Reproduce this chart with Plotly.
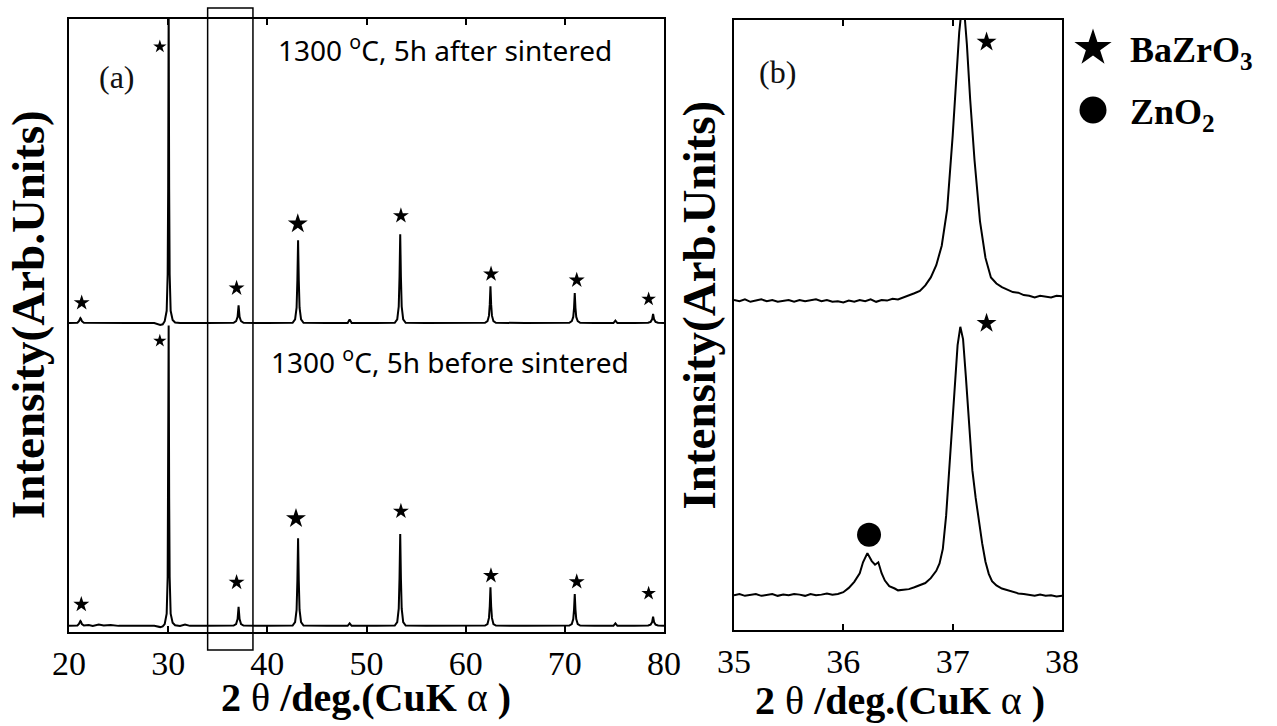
import plotly.graph_objects as go

W, H = 1277, 726

# ---------------- Panel (a): full XRD patterns (2theta, intensity above baseline) ----------------
a_after_2theta = [20.0, 20.85, 21.0, 21.1, 21.15, 21.2, 21.3, 21.5,
                  23.0, 26.0, 28.6,
                  29.2, 29.45, 29.65, 29.85, 29.95, 30.0, 30.05, 30.1, 30.15, 30.25, 30.45, 30.7, 31.2,
                  34.0,
                  36.6, 36.85, 37.0, 37.1, 37.2, 37.35, 37.6,
                  40.0,
                  42.55, 42.8, 42.95, 43.03, 43.1, 43.17, 43.25, 43.4, 43.65,
                  46.0,
                  48.1, 48.3, 48.5,
                  51.0,
                  52.85, 53.1, 53.25, 53.33, 53.4, 53.47, 53.55, 53.7, 53.95,
                  56.0, 59.0,
                  61.95, 62.2, 62.35, 62.43, 62.5, 62.57, 62.65, 62.8, 63.05,
                  66.0,
                  70.45, 70.7, 70.85, 70.93, 71.0, 71.07, 71.15, 71.3, 71.55,
                  73.0,
                  74.9, 75.1, 75.3,
                  77.0,
                  78.4, 78.65, 78.8, 78.9, 79.0, 79.15, 79.4,
                  80.0]
a_after_int = [0.0, 0.05, 0.3, 0.7, 0.8, 0.7, 0.3, 0.05,
               0.0, 0.0, 0.0,
               -0.3, -0.2, 0.3, 2.0, 8.0, 22.0, 52.0, 22.0, 8.0, 2.0, 0.5, 0.1, 0.0,
               0.0,
               0.05, 0.3, 1.0, 2.9, 1.0, 0.3, 0.05,
               0.0,
               0.05, 0.6, 2.5, 7.0, 13.5, 7.0, 2.5, 0.6, 0.05,
               0.0,
               0.0, 0.6, 0.0,
               0.0,
               0.05, 0.6, 2.7, 7.5, 14.5, 7.5, 2.7, 0.6, 0.05,
               0.0, 0.0,
               0.05, 0.3, 1.2, 3.0, 6.0, 3.0, 1.2, 0.3, 0.05,
               0.0,
               0.05, 0.3, 1.0, 2.5, 4.9, 2.5, 1.0, 0.3, 0.05,
               0.0,
               0.0, 0.4, 0.0,
               0.0,
               0.05, 0.2, 0.6, 1.5, 0.6, 0.2, 0.05,
               0.0]

a_before_2theta = [20.0, 20.85, 21.0, 21.1, 21.15, 21.2, 21.3, 21.5,
                   22.0, 22.4, 23.0, 23.5, 24.2, 25.0, 26.0, 28.6,
                   29.2, 29.45, 29.65, 29.85, 29.95, 30.0, 30.05, 30.1, 30.15, 30.25, 30.45, 30.7, 31.2,
                   31.7, 32.2, 34.0,
                   36.6, 36.85, 37.0, 37.1, 37.2, 37.35, 37.6,
                   40.0,
                   42.55, 42.8, 42.95, 43.03, 43.1, 43.17, 43.25, 43.4, 43.65,
                   46.0,
                   48.1, 48.3, 48.5,
                   51.0,
                   52.85, 53.1, 53.25, 53.33, 53.4, 53.47, 53.55, 53.7, 53.95,
                   56.0, 59.0,
                   61.95, 62.2, 62.35, 62.43, 62.5, 62.57, 62.65, 62.8, 63.05,
                   66.0,
                   70.45, 70.7, 70.85, 70.93, 71.0, 71.07, 71.15, 71.3, 71.55,
                   73.0,
                   74.9, 75.1, 75.3,
                   77.0,
                   78.4, 78.65, 78.8, 78.9, 79.0, 79.15, 79.4,
                   80.0]
a_before_int = [0.0, 0.05, 0.3, 0.7, 0.8, 0.7, 0.3, 0.05,
                0.15, 0.0, 0.2, 0.05, 0.15, 0.0, 0.0, 0.0,
                -0.2, -0.1, 0.3, 2.0, 8.0, 21.0, 49.0, 21.0, 8.0, 2.0, 0.5, 0.1, 0.0,
                0.2, 0.0, 0.0,
                0.05, 0.3, 1.1, 3.1, 1.1, 0.3, 0.05,
                0.0,
                0.05, 0.6, 2.6, 7.4, 14.3, 7.4, 2.6, 0.6, 0.05,
                0.0,
                0.0, 0.4, 0.0,
                0.0,
                0.05, 0.6, 2.8, 7.8, 15.0, 7.8, 2.8, 0.6, 0.05,
                0.0, 0.0,
                0.05, 0.3, 1.3, 3.2, 6.3, 3.2, 1.3, 0.3, 0.05,
                0.0,
                0.05, 0.3, 1.1, 2.7, 5.2, 2.7, 1.1, 0.3, 0.05,
                0.0,
                0.0, 0.4, 0.0,
                0.0,
                0.05, 0.2, 0.6, 1.5, 0.6, 0.2, 0.05,
                0.0]

# vertical stacking offsets of the two patterns (axis units 0..100)
a_after_offset = 50.4
a_before_offset = 1.0

# BaZrO3 peak markers (2theta, plotted height)
a_star_after_2theta = [21.28, 29.16, 36.90, 43.07, 53.47, 62.56, 71.20, 78.45]
a_star_after_y = [53.7, 95.5, 56.1, 66.6, 67.9, 58.4, 57.4, 54.3]
a_star_before_2theta = [21.24, 29.16, 36.90, 42.89, 53.47, 62.55, 71.20, 78.45]
a_star_before_y = [4.5, 47.5, 8.1, 18.5, 19.7, 9.2, 8.2, 6.3]
a_star_sizes = [12, 10, 12, 15, 12, 12, 12, 11]

a_ticks = [20, 30, 40, 50, 60, 70, 80]
a_zoom_window = [33.98, 38.55]

# ---------------- Panel (b): zoom 35-38 deg ----------------
b_after_2theta = [35.00, 35.05, 35.10, 35.15, 35.20, 35.25, 35.30, 35.35, 35.40, 35.45,
                  35.50, 35.55, 35.60, 35.65, 35.70, 35.75, 35.80, 35.85, 35.90, 35.95,
                  36.00, 36.05, 36.10, 36.15, 36.20, 36.25, 36.30, 36.35, 36.40, 36.45,
                  36.50, 36.55, 36.60, 36.65, 36.70, 36.75, 36.80, 36.85, 36.90, 36.95,
                  37.00, 37.03, 37.06, 37.095, 37.13, 37.16,
                  37.20, 37.25, 37.30, 37.35, 37.40, 37.45, 37.50, 37.55, 37.60, 37.65,
                  37.70, 37.75, 37.80, 37.85, 37.90, 37.95, 38.00]
b_after_int = [0.1, -0.1, 0.2, -0.2, 0.0, 0.2, -0.1, 0.1, -0.2, 0.0,
               0.1, -0.2, 0.1, -0.1, 0.0, 0.2, -0.1, 0.1, -0.2, -0.1,
               -0.3, 0.0, -0.2, 0.1, -0.1, 0.2, -0.2, 0.1, 0.0, 0.3,
               0.2, 0.5, 0.9, 1.2, 1.6, 2.5, 3.8, 5.8, 9.0, 15.0,
               27.0, 36.0, 44.0, 50.0, 42.0, 33.0,
               23.0, 13.0, 7.0, 3.8, 2.8, 2.2, 1.8, 1.4, 1.3, 0.9,
               0.8, 0.5, 0.8, 0.6, 0.5, 0.8, 0.7]

b_before_2theta = [35.00, 35.05, 35.10, 35.15, 35.20, 35.25, 35.30, 35.35, 35.40, 35.45,
                   35.50, 35.55, 35.60, 35.65, 35.70, 35.75, 35.80, 35.85, 35.90, 35.95,
                   36.00, 36.05, 36.10, 36.15,
                   36.18, 36.22, 36.26, 36.29, 36.32, 36.35, 36.38, 36.42, 36.47,
                   36.50, 36.55, 36.60, 36.65, 36.70, 36.75, 36.80, 36.85,
                   36.88, 36.91, 36.94, 36.97, 37.00, 37.02, 37.045, 37.07, 37.095, 37.12,
                   37.15, 37.18, 37.21, 37.24, 37.27, 37.30, 37.33, 37.36,
                   37.40, 37.45, 37.50, 37.55, 37.60, 37.65, 37.70, 37.75, 37.80, 37.85,
                   37.90, 37.95, 38.00]
b_before_int = [0.0, 0.2, -0.1, 0.1, 0.2, -0.1, 0.0, 0.2, -0.1, 0.1,
                0.0, 0.2, 0.1, -0.1, 0.2, 0.0, 0.1, 0.3, 0.1, 0.2,
                0.5, 1.2, 2.2, 3.6,
                5.4, 6.9, 5.6, 5.0, 5.4, 3.6, 2.4, 1.5, 1.1,
                0.8, 0.9, 1.0, 1.3, 1.6, 2.0, 2.8, 4.0,
                5.2, 7.6, 13.0, 21.4, 30.0, 35.0, 41.0, 44.0, 42.0, 36.0,
                28.5, 20.5, 16.0, 12.0, 8.5, 5.5, 3.5, 2.3,
                1.6, 1.1, 0.8, 0.5, 0.3, 0.2, 0.1, -0.1, 0.1, -0.1,
                0.0, -0.2, -0.1]

b_after_offset = 54.0
b_before_offset = 5.7

b_star_2theta = [37.31, 37.31]
b_star_y = [96.4, 50.3]
b_zno_2theta = [36.235]
b_zno_y = [15.6]
b_ticks = [35, 36, 37, 38]

legend_labels = ["<b>BaZrO<sub>3</sub></b>", "<b>ZnO<sub>2</sub></b>"]

for xs, ys in [(a_after_2theta, a_after_int), (a_before_2theta, a_before_int),
               (b_after_2theta, b_after_int), (b_before_2theta, b_before_int)]:
    assert len(xs) == len(ys), (len(xs), len(ys))

SERIF = "Liberation Serif, Times New Roman, serif"
BLACK = "#000000"

fig = go.Figure()

line_style = dict(color=BLACK, width=2)


def star_marker(size, symbol="star"):
    return dict(symbol=symbol, size=size, color=BLACK, opacity=1, line=dict(width=0, color=BLACK))


# panel (a) patterns
fig.add_trace(go.Scatter(x=a_after_2theta, y=[v + a_after_offset for v in a_after_int],
                         mode="lines", line=line_style, xaxis="x", yaxis="y",
                         name="1300 °C, 5h after sintered", showlegend=False, hoverinfo="skip"))
fig.add_trace(go.Scatter(x=a_before_2theta, y=[v + a_before_offset for v in a_before_int],
                         mode="lines", line=line_style, xaxis="x", yaxis="y",
                         name="1300 °C, 5h before sintered", showlegend=False, hoverinfo="skip"))
fig.add_trace(go.Scatter(x=a_star_after_2theta, y=a_star_after_y, mode="markers",
                         marker=star_marker(a_star_sizes),
                         xaxis="x", yaxis="y", showlegend=False, hoverinfo="skip"))
fig.add_trace(go.Scatter(x=a_star_before_2theta, y=a_star_before_y, mode="markers",
                         marker=star_marker(a_star_sizes),
                         xaxis="x", yaxis="y", showlegend=False, hoverinfo="skip"))

# panel (b) patterns
fig.add_trace(go.Scatter(x=b_after_2theta, y=[v + b_after_offset for v in b_after_int],
                         mode="lines", line=line_style, xaxis="x2", yaxis="y2",
                         showlegend=False, hoverinfo="skip"))
fig.add_trace(go.Scatter(x=b_before_2theta, y=[v + b_before_offset for v in b_before_int],
                         mode="lines", line=line_style, xaxis="x2", yaxis="y2",
                         showlegend=False, hoverinfo="skip"))
fig.add_trace(go.Scatter(x=b_star_2theta, y=b_star_y, mode="markers",
                         marker=star_marker(15),
                         xaxis="x2", yaxis="y2", showlegend=False, hoverinfo="skip"))
fig.add_trace(go.Scatter(x=b_zno_2theta, y=b_zno_y, mode="markers",
                         marker=star_marker(24, "circle"),
                         xaxis="x2", yaxis="y2", showlegend=False, hoverinfo="skip"))

# key symbols (pixel-space overlay axes)
fig.add_trace(go.Scatter(x=[1093], y=[48], mode="markers", marker=star_marker(28),
                         xaxis="x3", yaxis="y3", showlegend=False, hoverinfo="skip"))
fig.add_trace(go.Scatter(x=[1093], y=[110], mode="markers", marker=star_marker(27, "circle"),
                         xaxis="x3", yaxis="y3", showlegend=False, hoverinfo="skip"))

tickfont = dict(family=SERIF, size=34, color=BLACK)
common_x = dict(showline=True, linewidth=2, linecolor=BLACK, mirror="ticks", ticks="inside",
                ticklen=6, tickwidth=1.5, tickcolor=BLACK, showgrid=False, zeroline=False,
                tickfont=tickfont, ticklabelstandoff=0, automargin=False)
common_y = dict(showline=True, linewidth=2, linecolor=BLACK, mirror=True, ticks="",
                showticklabels=False, showgrid=False, zeroline=False, range=[0, 100], automargin=False)

fig.update_layout(
    width=W, height=H,
    margin=dict(l=0, r=0, t=0, b=0, pad=0, autoexpand=False),
    paper_bgcolor="white", plot_bgcolor="rgba(0,0,0,0)",
    showlegend=False,
    xaxis=dict(domain=[69 / W, 664 / W], range=[20, 80], tickvals=a_ticks, anchor="y", **common_x),
    yaxis=dict(domain=[1 - 632 / H, 1 - 19 / H], anchor="x", **common_y),
    xaxis2=dict(domain=[734 / W, 1062 / W], range=[35, 38], tickvals=b_ticks, anchor="y2", **common_x),
    yaxis2=dict(domain=[1 - 630 / H, 1 - 20 / H], anchor="x2", **common_y),
    xaxis3=dict(domain=[1074 / W, 1114 / W], range=[1074, 1114], visible=False, anchor="y3", automargin=False),
    yaxis3=dict(domain=[0, 1], range=[H, 0], visible=False, anchor="x3", automargin=False),
)

fig.add_shape(type="rect", xref="x", yref="paper",
              x0=a_zoom_window[0], x1=a_zoom_window[1], y0=1 - 650 / H, y1=1 - 8 / H,
              line=dict(color=BLACK, width=1.5), fillcolor="rgba(0,0,0,0)", layer="above")

ann = []
title_font = dict(family=SERIF, size=40, color=BLACK)
xtitle = "<b>2 </b>θ<b> /deg.(CuK </b>α<b> )</b>"
ann.append(dict(text=xtitle, x=366 / W, y=1 - 697 / H, xref="paper", yref="paper",
                xanchor="center", yanchor="middle", showarrow=False, font=title_font))
ann.append(dict(text=xtitle, x=900 / W, y=1 - 700 / H, xref="paper", yref="paper",
                xanchor="center", yanchor="middle", showarrow=False, font=title_font))
ytitle = "<b>Intensity(Arb.Units)</b>"
ytitle_font = dict(family=SERIF, size=47, color=BLACK)
ann.append(dict(text=ytitle, x=28 / W, y=1 - 315 / H, xref="paper", yref="paper", textangle=-90,
                xanchor="center", yanchor="middle", showarrow=False, font=ytitle_font))
ann.append(dict(text=ytitle, x=698.5 / W, y=1 - 305 / H, xref="paper", yref="paper", textangle=-90,
                xanchor="center", yanchor="middle", showarrow=False, font=ytitle_font))
label_font = dict(family=SERIF, size=32, color="#111111")
ann.append(dict(text="(a)", x=117 / W, y=1 - 77 / H, xref="paper", yref="paper",
                xanchor="center", yanchor="middle", showarrow=False, font=label_font))
ann.append(dict(text="(b)", x=777 / W, y=1 - 72 / H, xref="paper", yref="paper",
                xanchor="center", yanchor="middle", showarrow=False, font=label_font))
cond_font = dict(family="Noto Sans, sans-serif", size=28, color=BLACK)
ann.append(dict(text="1300 <sup>o</sup>C, 5h after sintered", x=276 / W, y=1 - 49 / H,
                xref="paper", yref="paper", xanchor="left", yanchor="middle", showarrow=False, font=cond_font))
ann.append(dict(text="1300 <sup>o</sup>C, 5h before sintered", x=269 / W, y=1 - 360 / H,
                xref="paper", yref="paper", xanchor="left", yanchor="middle", showarrow=False, font=cond_font))
key_font = dict(family=SERIF, size=36, color=BLACK)
ann.append(dict(text=legend_labels[0], x=1128 / W, y=1 - 52 / H, xref="paper", yref="paper",
                xanchor="left", yanchor="middle", showarrow=False, font=key_font))
ann.append(dict(text=legend_labels[1], x=1128 / W, y=1 - 114 / H, xref="paper", yref="paper",
                xanchor="left", yanchor="middle", showarrow=False, font=key_font))
fig.update_layout(annotations=ann)

fig.write_html("out.html")
